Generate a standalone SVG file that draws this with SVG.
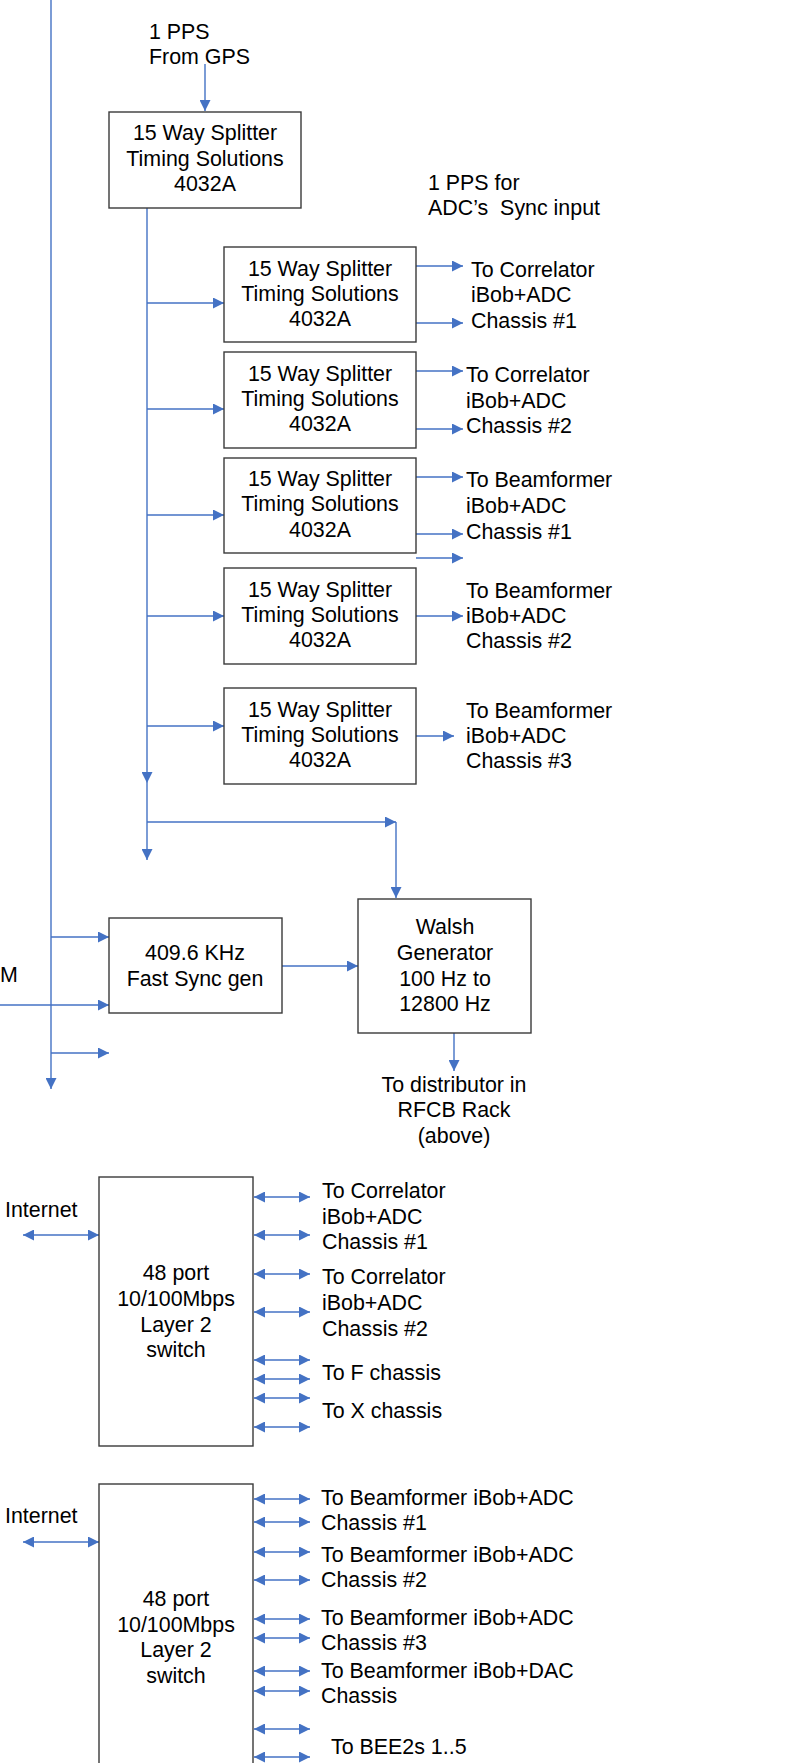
<svg xmlns="http://www.w3.org/2000/svg" width="804" height="1763" viewBox="0 0 804 1763">
<style>
text{font-family:"Liberation Sans",Arial,sans-serif;font-size:21.4px;fill:#000}
.c{text-anchor:middle}
.box{fill:#fff;stroke:#3a3a3a;stroke-width:1.4}
.ln{stroke:#4472C4;stroke-width:1.4;fill:none}
.a{marker-end:url(#arr)}
.d{marker-end:url(#arr);marker-start:url(#arr)}
</style>
<defs>
<marker id="arr" markerUnits="userSpaceOnUse" markerWidth="11" markerHeight="11" viewBox="0 0 10 10" refX="10" refY="5" orient="auto-start-reverse">
<path d="M0,0 L10,5 L0,10 z" fill="#4472C4"/>
</marker>
</defs>
<g id="connectors">
<line class="ln a" x1="51" y1="0" x2="51" y2="1089"/>
<line class="ln a" x1="205" y1="64" x2="205" y2="111"/>
<line class="ln a" x1="147" y1="208" x2="147" y2="783"/>
<line class="ln a" x1="147" y1="783" x2="147" y2="860"/>
<line class="ln a" x1="147" y1="303" x2="224" y2="303"/>
<line class="ln a" x1="147" y1="409" x2="224" y2="409"/>
<line class="ln a" x1="147" y1="515" x2="224" y2="515"/>
<line class="ln a" x1="147" y1="616" x2="224" y2="616"/>
<line class="ln a" x1="147" y1="726" x2="224" y2="726"/>
<line class="ln a" x1="416" y1="266" x2="463" y2="266"/>
<line class="ln a" x1="416" y1="323" x2="463" y2="323"/>
<line class="ln a" x1="416" y1="371" x2="463" y2="371"/>
<line class="ln a" x1="416" y1="429" x2="463" y2="429"/>
<line class="ln a" x1="416" y1="477" x2="463" y2="477"/>
<line class="ln a" x1="416" y1="534" x2="463" y2="534"/>
<line class="ln a" x1="416" y1="558" x2="463" y2="558"/>
<line class="ln a" x1="416" y1="616" x2="463" y2="616"/>
<line class="ln a" x1="416" y1="736" x2="454" y2="736"/>
<line class="ln a" x1="147" y1="822" x2="396" y2="822"/>
<line class="ln a" x1="396" y1="822" x2="396" y2="898"/>
<line class="ln a" x1="51" y1="937" x2="109" y2="937"/>
<line class="ln a" x1="0" y1="1005" x2="109" y2="1005"/>
<line class="ln a" x1="51" y1="1053" x2="109" y2="1053"/>
<line class="ln a" x1="282" y1="966" x2="358" y2="966"/>
<line class="ln a" x1="454" y1="1033" x2="454" y2="1071"/>
<line class="ln d" x1="23" y1="1235" x2="99" y2="1235"/>
<line class="ln d" x1="254" y1="1197" x2="310" y2="1197"/>
<line class="ln d" x1="254" y1="1235" x2="310" y2="1235"/>
<line class="ln d" x1="254" y1="1274" x2="310" y2="1274"/>
<line class="ln d" x1="254" y1="1312" x2="310" y2="1312"/>
<line class="ln d" x1="254" y1="1360" x2="310" y2="1360"/>
<line class="ln d" x1="254" y1="1379" x2="310" y2="1379"/>
<line class="ln d" x1="254" y1="1398" x2="310" y2="1398"/>
<line class="ln d" x1="254" y1="1427" x2="310" y2="1427"/>
<line class="ln d" x1="23" y1="1542" x2="99" y2="1542"/>
<line class="ln d" x1="254" y1="1499" x2="310" y2="1499"/>
<line class="ln d" x1="254" y1="1522" x2="310" y2="1522"/>
<line class="ln d" x1="254" y1="1552" x2="310" y2="1552"/>
<line class="ln d" x1="254" y1="1580" x2="310" y2="1580"/>
<line class="ln d" x1="254" y1="1619" x2="310" y2="1619"/>
<line class="ln d" x1="254" y1="1638" x2="310" y2="1638"/>
<line class="ln d" x1="254" y1="1671" x2="310" y2="1671"/>
<line class="ln d" x1="254" y1="1691" x2="310" y2="1691"/>
<line class="ln d" x1="254" y1="1729" x2="310" y2="1729"/>
<line class="ln d" x1="254" y1="1757" x2="310" y2="1757"/>
</g>
<g id="labels">
<text x="149" y="39">1 PPS</text>
<text x="149" y="64">From GPS</text>
<text x="428" y="190">1 PPS for</text>
<text x="428" y="215" xml:space="preserve">ADC’s  Sync input</text>
<text x="471" y="277">To Correlator</text>
<text x="471" y="302">iBob+ADC</text>
<text x="471" y="328">Chassis #1</text>
<text x="466" y="382">To Correlator</text>
<text x="466" y="408">iBob+ADC</text>
<text x="466" y="433">Chassis #2</text>
<text x="466" y="487">To Beamformer</text>
<text x="466" y="513">iBob+ADC</text>
<text x="466" y="539">Chassis #1</text>
<text x="466" y="598">To Beamformer</text>
<text x="466" y="623">iBob+ADC</text>
<text x="466" y="648">Chassis #2</text>
<text x="466" y="718">To Beamformer</text>
<text x="466" y="743">iBob+ADC</text>
<text x="466" y="768">Chassis #3</text>
<text x="0" y="982">M</text>
<text class="c" x="454" y="1092">To distributor in</text>
<text class="c" x="454" y="1117">RFCB Rack</text>
<text class="c" x="454" y="1143">(above)</text>
<text x="5" y="1217">Internet</text>
<text x="322" y="1198">To Correlator</text>
<text x="322" y="1224">iBob+ADC</text>
<text x="322" y="1249">Chassis #1</text>
<text x="322" y="1284">To Correlator</text>
<text x="322" y="1310">iBob+ADC</text>
<text x="322" y="1336">Chassis #2</text>
<text x="322" y="1380">To F chassis</text>
<text x="322" y="1418">To X chassis</text>
<text x="5" y="1523">Internet</text>
<text x="321" y="1505">To Beamformer iBob+ADC</text>
<text x="321" y="1530">Chassis #1</text>
<text x="321" y="1562">To Beamformer iBob+ADC</text>
<text x="321" y="1587">Chassis #2</text>
<text x="321" y="1625">To Beamformer iBob+ADC</text>
<text x="321" y="1650">Chassis #3</text>
<text x="321" y="1678">To Beamformer iBob+DAC</text>
<text x="321" y="1703">Chassis</text>
<text x="331" y="1754">To BEE2s 1..5</text>
</g>
<g id="splitter0">
<rect class="box" x="109" y="112" width="192" height="96"/>
<text class="c" x="205" y="140">15 Way Splitter</text>
<text class="c" x="205" y="166">Timing Solutions</text>
<text class="c" x="205" y="191">4032A</text>
</g>
<g id="splitter1">
<rect class="box" x="224" y="247" width="192" height="95"/>
<text class="c" x="320" y="276">15 Way Splitter</text>
<text class="c" x="320" y="301">Timing Solutions</text>
<text class="c" x="320" y="326">4032A</text>
</g>
<g id="splitter2">
<rect class="box" x="224" y="352" width="192" height="96"/>
<text class="c" x="320" y="381">15 Way Splitter</text>
<text class="c" x="320" y="406">Timing Solutions</text>
<text class="c" x="320" y="431">4032A</text>
</g>
<g id="splitter3">
<rect class="box" x="224" y="458" width="192" height="95"/>
<text class="c" x="320" y="486">15 Way Splitter</text>
<text class="c" x="320" y="511">Timing Solutions</text>
<text class="c" x="320" y="537">4032A</text>
</g>
<g id="splitter4">
<rect class="box" x="224" y="568" width="192" height="96"/>
<text class="c" x="320" y="597">15 Way Splitter</text>
<text class="c" x="320" y="622">Timing Solutions</text>
<text class="c" x="320" y="647">4032A</text>
</g>
<g id="splitter5">
<rect class="box" x="224" y="688" width="192" height="96"/>
<text class="c" x="320" y="717">15 Way Splitter</text>
<text class="c" x="320" y="742">Timing Solutions</text>
<text class="c" x="320" y="767">4032A</text>
</g>
<g id="fastsync">
<rect class="box" x="109" y="918" width="173" height="95"/>
<text class="c" x="195" y="960">409.6 KHz</text>
<text class="c" x="195" y="986">Fast Sync gen</text>
</g>
<g id="walsh">
<rect class="box" x="358" y="899" width="173" height="134"/>
<text class="c" x="445" y="934">Walsh</text>
<text class="c" x="445" y="960">Generator</text>
<text class="c" x="445" y="986">100 Hz to</text>
<text class="c" x="445" y="1011">12800 Hz</text>
</g>
<g id="switch1">
<rect class="box" x="99" y="1177" width="154" height="269"/>
<text class="c" x="176" y="1280">48 port</text>
<text class="c" x="176" y="1306">10/100Mbps</text>
<text class="c" x="176" y="1332">Layer 2</text>
<text class="c" x="176" y="1357">switch</text>
</g>
<g id="switch2">
<rect class="box" x="99" y="1484" width="154" height="320"/>
<text class="c" x="176" y="1606">48 port</text>
<text class="c" x="176" y="1632">10/100Mbps</text>
<text class="c" x="176" y="1657">Layer 2</text>
<text class="c" x="176" y="1683">switch</text>
</g>
</svg>
